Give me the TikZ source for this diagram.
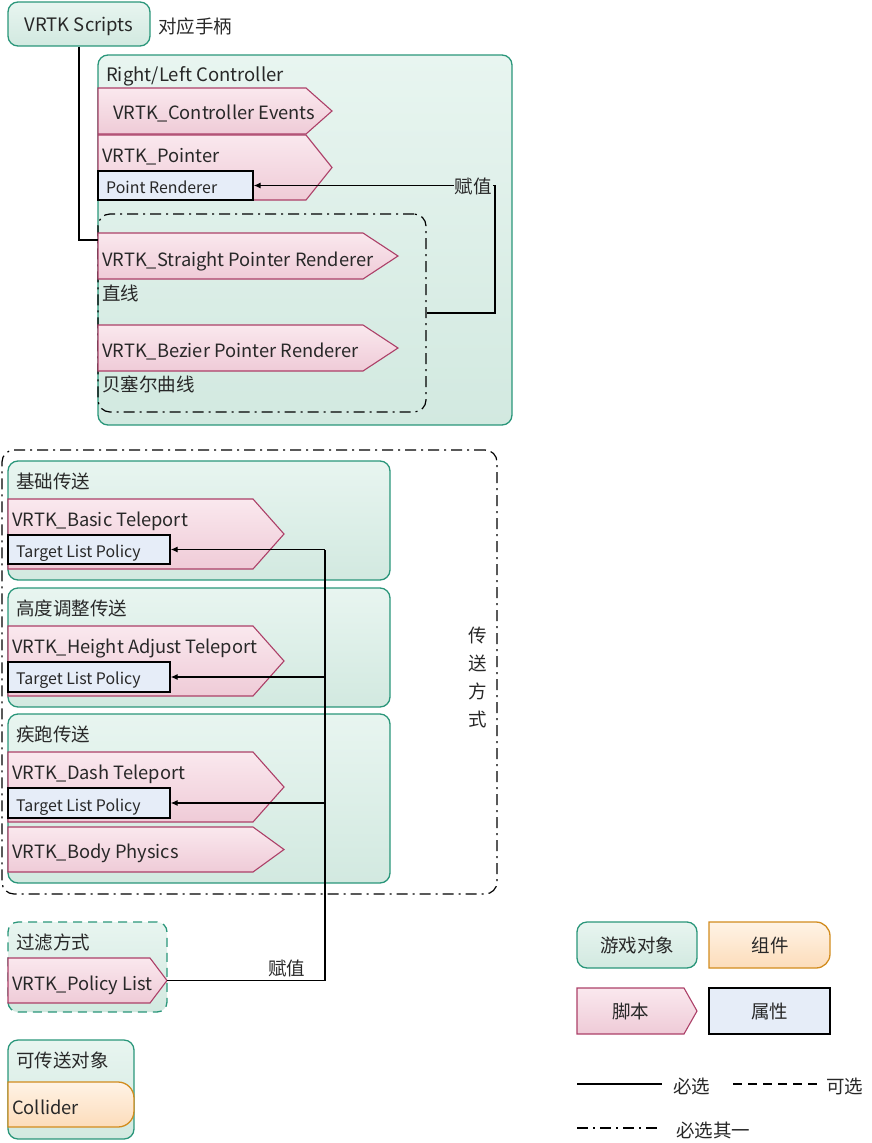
\documentclass[tikz,border=0pt]{standalone}
\usepackage{fontspec}
\setmainfont{Noto Sans CJK SC}
\usetikzlibrary{fit,arrows.meta}

\definecolor{gline}{RGB}{42,150,122}
\definecolor{gtop}{RGB}{232,245,240}
\definecolor{gbot}{RGB}{210,233,224}
\definecolor{sline}{RGB}{172,64,104}
\definecolor{stop}{RGB}{250,232,238}
\definecolor{sbot}{RGB}{239,203,215}
\definecolor{pfill}{RGB}{230,237,248}
\definecolor{cline}{RGB}{210,140,30}
\definecolor{ctop}{RGB}{255,243,230}
\definecolor{cbot}{RGB}{252,220,186}
\definecolor{txt}{RGB}{40,40,40}

\tikzset{
  gobj/.style={draw=gline, line width=1.3pt, rounded corners=10pt,
    top color=gtop, bottom color=gbot, inner sep=0pt},
  prop/.style={draw=black, line width=1.3pt, fill=pfill, inner sep=0pt},
  scriptshape/.style={draw=sline, line width=1.1pt, top color=stop, bottom color=sbot},
  compshape/.style={draw=cline, line width=1.3pt, top color=ctop, bottom color=cbot},
  choice/.style={draw=black, line width=1.2pt, rounded corners=12pt,
    dash pattern=on 11pt off 5pt on 2pt off 5pt, inner sep=0pt},
  optional/.style={dash pattern=on 9pt off 6pt},
  link/.style={draw=black, line width=1.2pt},
  arr/.style={link, -{Latex[length=7pt,width=6pt]}},
  plain/.style={anchor=west, inner sep=0pt, text height=1.4ex, text depth=0pt,
    yshift=-4pt, text=txt, font=\fontsize{18.5}{20}\selectfont},
  scripttext/.style={plain, font=\fontsize{18.3}{21}\selectfont},
  proptext/.style={plain, yshift=0.5pt, font=\fontsize{15.9}{17}\selectfont},
}

% name, left, top, bottom, tip start, tip, text x, text y, text
\newcommand{\vrtkscript}[9]{%
  \draw[scriptshape] (#2,#3) -- (#5,#3) -- (#6,{(#3+#4)/2}) -- (#5,#4) -- (#2,#4) -- cycle;
  \coordinate (#1-tip) at (#6,{(#3+#4)/2});
  \node[scripttext] (#1) at (#7,#8) {#9};
}
% left, top, right, bottom, radius
\newcommand{\compbox}[5]{%
  \draw[compshape] (#1,#2) -- ({#3-#5},#2) arc[start angle=-90, end angle=0, radius=#5]
    -- (#3,{#4-#5}) arc[start angle=0, end angle=90, radius=#5] -- (#1,#4) -- cycle;
}

\begin{document}
\begin{tikzpicture}[x=1pt,y=-1pt]
\useasboundingbox (0,0) rectangle (871,1143);

% scripts on the controller
\node[gobj, fit={(8,2) (150,46)}] (vs) {};
\node[plain, anchor=center] (vst) at (vs.center) {VRTK Scripts};
\node[plain] (vsnote) at (158,26) {对应手柄};

\node[gobj, fit={(98,55) (512,425)}] (rlc) {};
\node[plain] (rlct) at (106,74) {Right/Left Controller};
\vrtkscript{ce}{98}{88}{134}{306}{332}{113}{112}{VRTK\_Controller Events}
\vrtkscript{ptrs}{98}{135}{200}{306}{332}{102}{155}{VRTK\_Pointer}
\node[prop, fit={(98,171) (253,200)}] (ptr) {};
\node[proptext] (ptrt) at (106,186) {Point Renderer};

\node[choice, fit={(98,214) (426,412)}] (ptrgrp) {};
\vrtkscript{spr}{98}{233}{279}{363}{398}{102}{259}{VRTK\_Straight Pointer Renderer}
\node[plain] (sprn) at (102,293) {直线};
\vrtkscript{bpr}{98}{325}{371}{363}{398}{102}{350}{VRTK\_Bezier Pointer Renderer}
\node[plain] (bprn) at (102,384) {贝塞尔曲线};

\coordinate (sprin) at (98,240);
\coordinate (fzx) at (495,0);
\draw[link] (vs.south) |- (sprin);
\draw[arr] (ptrgrp.east) -| (ptr.east -| fzx) -- (ptr.east);
\node[plain, anchor=center, fill=gtop!70!gbot, inner sep=1pt] (fz1) at (473,186) {赋值};

% teleport
\node[choice, fit={(2,450) (497,894)}] (tpgrp) {};
\node[text=txt, align=center, inner sep=0pt, font=\fontsize{18.5}{28}\selectfont] (tpnote) at (478,678) {传\\送\\方\\式};

\node[gobj, fit={(8,461) (390,580)}] (basic) {};
\node[plain] (basict) at (16,481) {基础传送};
\vrtkscript{bt}{8}{499}{569}{253}{284}{12}{519}{VRTK\_Basic Teleport}
\node[prop, fit={(8,535) (170,564)}] (tlp1) {};
\node[proptext] (tlp1t) at (16,550) {Target List Policy};

\node[gobj, fit={(8,588) (390,707)}] (height) {};
\node[plain] (heightt) at (16,608) {高度调整传送};
\vrtkscript{ht}{8}{626}{696}{253}{284}{12}{646}{VRTK\_Height Adjust Teleport}
\node[prop, fit={(8,662) (170,692)}] (tlp2) {};
\node[proptext] (tlp2t) at (16,677) {Target List Policy};

\node[gobj, fit={(8,714) (390,883)}] (dash) {};
\node[plain] (dasht) at (16,734) {疾跑传送};
\vrtkscript{dt}{8}{752}{822}{253}{284}{12}{772}{VRTK\_Dash Teleport}
\node[prop, fit={(8,788) (170,818)}] (tlp3) {};
\node[proptext] (tlp3t) at (16,804) {Target List Policy};
\vrtkscript{bp}{8}{827}{872}{253}{284}{12}{851}{VRTK\_Body Physics}

% filter
\node[gobj, optional, fit={(8,922) (167,1012)}] (filter) {};
\node[plain] (filtert) at (16,942) {过滤方式};
\vrtkscript{pl}{8}{958}{1003}{150}{167}{12}{983}{VRTK\_Policy List}

\coordinate (bus) at (325,0);
\draw[link] (pl-tip) -| (tlp1.east -| bus);
\node[plain] (fz2) at (268,968) {赋值};
\draw[arr] (tlp1.east -| bus) -- (tlp1.east);
\draw[arr] (tlp2.east -| bus) -- (tlp2.east);
\draw[arr] (tlp3.east -| bus) -- (tlp3.east);

% teleportable object
\node[gobj, fit={(8,1040) (134,1139)}] (tobj) {};
\node[plain] (tobjt) at (16,1060) {可传送对象};
\compbox{8}{1082}{134}{1127}{16}
\node[scripttext] (coll) at (12,1107) {Collider};

% legend
\node[gobj, fit={(577,922) (697,968)}] (lgobj) {};
\node[plain, anchor=center] (lgobjt) at (lgobj.center) {游戏对象};
\compbox{709}{922}{830}{968}{14}
\node[plain, anchor=center] (lcomp) at (770,945) {组件};
\vrtkscript{lscr}{577}{988}{1034}{684}{697}{612}{1011}{\fontsize{18.5}{20}\selectfont 脚本}
\node[prop, fit={(709,988) (830,1034)}] (lprop) {};
\node[plain, anchor=center] (lpropt) at (lprop.center) {属性};

\coordinate (must1) at (577,1084);
\coordinate (must2) at (662,1084);
\coordinate (opt1) at (733,1084);
\coordinate (opt2) at (818,1084);
\coordinate (one1) at (577,1128);
\coordinate (one2) at (660,1128);
\draw[link] (must1) -- (must2);
\node[plain] (mustt) at (673,1086) {必选};
\draw[link, optional] (opt1) -- (opt2);
\node[plain] (optt) at (826,1086) {可选};
\draw[link, dash pattern=on 11pt off 5pt on 2pt off 5pt] (one1) -- (one2);
\node[plain] (onet) at (676,1130) {必选其一};
\end{tikzpicture}
\end{document}
